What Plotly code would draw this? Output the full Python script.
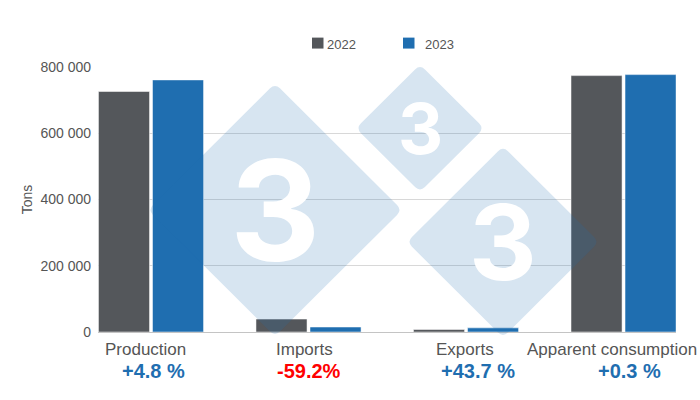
import plotly.graph_objects as go

categories = ["Production", "Imports", "Exports", "Apparent consumption"]
values_2022 = [726000, 39000, 7500, 774000]
values_2023 = [761000, 15000, 12500, 777000]
changes = ["+4.8 %", "-59.2%", "+43.7 %", "+0.3 %"]
series_names = ["2022", "2023"]
tick_values = [0, 200000, 400000, 600000, 800000]

GREY = "#54575b"
BLUE = "#1f6eb0"
RED = "#ff0000"
TEXT = "#555555"
FONT = "Liberation Sans"

# plot area in pixels, the watermark and labels are placed against it
LEFT, RIGHT, TOP, BOTTOM = 98, 676, 66.5, 332.5


def px(x):
    return (x - LEFT) / (RIGHT - LEFT)


def py(y):
    return (BOTTOM - y) / (BOTTOM - TOP)


def diamond_path(cx, cy, half, r=7):
    """Rounded diamond as an SVG path in paper coordinates."""
    pts = [(cx, cy - half), (cx + half, cy), (cx, cy + half), (cx - half, cy)]
    d = r * 0.7071
    steps = [(d, d), (-d, d), (-d, -d), (d, -d)]
    path = ""
    for i, (x, y) in enumerate(pts):
        # entry point comes along the previous edge, exit along the next one
        ex, ey = steps[i - 1]
        ox, oy = steps[i]
        cmd = "M" if i == 0 else "L"
        path += f"{cmd} {px(x - ex):.5f} {py(y - ey):.5f} "
        path += f"Q {px(x):.5f} {py(y):.5f} {px(x + ox):.5f} {py(y + oy):.5f} "
    return path + "Z"


fig = go.Figure()
fig.add_bar(x=categories, y=values_2022, name=series_names[0], marker_color=GREY)
fig.add_bar(x=categories, y=values_2023, name=series_names[1], marker_color=BLUE)

# watermark
marks = [(275, 210, 127, 140), (420, 128, 64, 70), (503, 242, 96, 105)]
shapes = [
    dict(
        type="path",
        xref="paper",
        yref="paper",
        path=diamond_path(cx, cy, half),
        fillcolor="rgba(31,110,176,0.18)",
        line_width=0,
        layer="above",
    )
    for cx, cy, half, _ in marks
]
annotations = [
    dict(
        text="3",
        xref="paper",
        yref="paper",
        x=px(cx),
        y=py(cy),
        showarrow=False,
        xanchor="center",
        yanchor="middle",
        font=dict(family="Inter", size=size, color="white", weight="bold"),
    )
    for cx, cy, _, size in marks
]

# legend is drawn by hand, the swatch to text gaps differ per entry
for name, color, sx, tx in zip(series_names, [GREY, BLUE], [312, 403], [326, 424]):
    shapes.append(
        dict(
            type="rect",
            xref="paper",
            yref="paper",
            x0=px(sx),
            x1=px(sx + 11.5),
            y0=py(37),
            y1=py(48),
            fillcolor=color,
            line_width=0,
        )
    )
    annotations.append(
        dict(
            text=name,
            xref="paper",
            yref="paper",
            x=px(tx),
            y=py(43.5),
            showarrow=False,
            xanchor="left",
            yanchor="middle",
            xshift=-1,
            font=dict(size=13, color=TEXT),
        )
    )

# category labels and changes sit off-centre in the original
label_x = [145, 304, 465, 611.5]
change_x = [153.5, 308.5, 477.5, 629]
for name, change, lx, cx in zip(categories, changes, label_x, change_x):
    annotations.append(
        dict(
            text=name,
            xref="paper",
            yref="paper",
            x=px(lx),
            y=py(350),
            showarrow=False,
            xanchor="center",
            yanchor="middle",
            font=dict(size=17, color=TEXT),
        )
    )
    annotations.append(
        dict(
            text=f"<b>{change}</b>",
            xref="paper",
            yref="paper",
            x=px(cx),
            y=py(372),
            showarrow=False,
            xanchor="center",
            yanchor="middle",
            font=dict(size=20, color=RED if change.startswith("-") else BLUE),
        )
    )

fig.update_layout(
    width=700,
    height=400,
    margin=dict(l=LEFT, r=700 - RIGHT, t=TOP, b=400 - BOTTOM),
    template="plotly_white",
    plot_bgcolor="white",
    paper_bgcolor="white",
    font=dict(family=FONT, color=TEXT, size=14),
    barmode="group",
    bargap=0.314,
    bargroupgap=0.055,
    separators=". ",
    shapes=shapes,
    annotations=annotations,
    showlegend=False,
)
fig.update_xaxes(
    range=[-0.3365, 3.333],
    showticklabels=False,
    showgrid=False,
    ticks="",
    showline=True,
    linecolor="#c4c4c4",
    linewidth=1,
    zeroline=False,
)
fig.update_yaxes(
    range=[0, 800000],
    tickvals=tick_values,
    tickformat=",d",
    tickfont=dict(size=14, color=TEXT),
    ticklabelstandoff=6,
    gridcolor="#d8d8d8",
    gridwidth=1,
    zeroline=False,
    title=dict(text="Tons", font=dict(size=14, color=TEXT), standoff=4),
)

# the page keeps the browser's default body margin otherwise
fig.write_html(
    "out.html",
    config={"displayModeBar": False},
    post_script="document.body.style.margin = '0';",
)
